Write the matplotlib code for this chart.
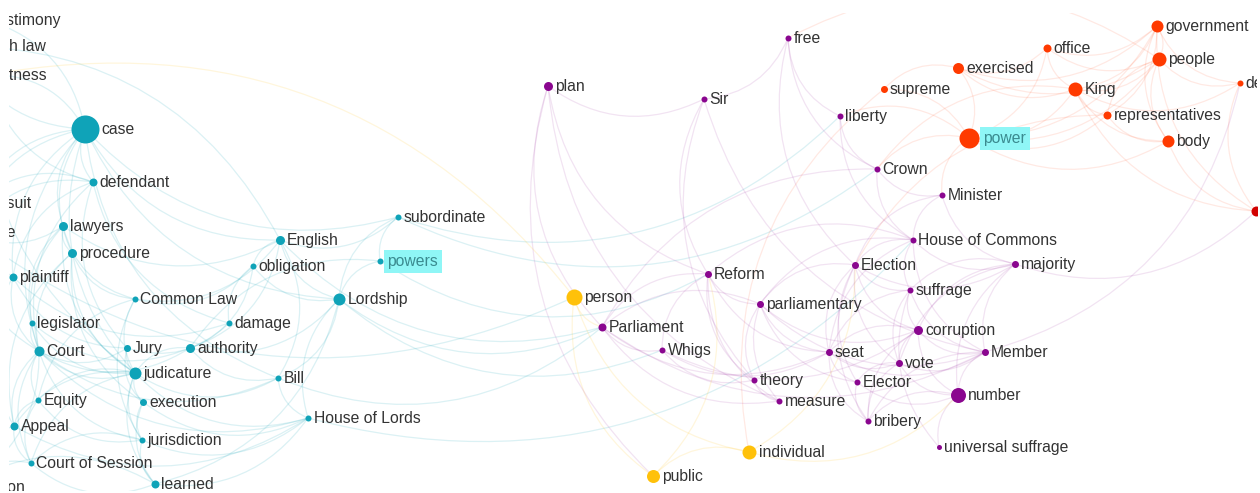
import matplotlib
matplotlib.use("Agg")
import matplotlib.pyplot as plt
from matplotlib.patches import FancyArrowPatch

# ---------------- data ----------------
node_labels = [
    # law cluster
    "case", "defendant", "lawyers", "procedure", "plaintiff", "Common Law", "legislator",
    "damage", "Court", "Jury", "authority", "judicature", "Bill", "Equity", "execution",
    "Appeal", "jurisdiction", "Court of Session", "learned", "English", "obligation",
    "subordinate", "powers", "Lordship", "House of Lords",
    "testimony", "English law", "witness", "lawsuit", "judge", "decision",
    # politics cluster
    "plan", "Sir", "free", "liberty", "Crown", "Minister", "House of Commons", "Reform",
    "Election", "majority", "parliamentary", "suffrage", "Parliament", "corruption",
    "Whigs", "seat", "vote", "Member", "theory", "Elector", "measure", "number",
    "bribery", "universal suffrage",
    # power cluster
    "government", "office", "exercised", "people", "supreme", "King", "representatives",
    "power", "body", "democracy", "state",
    # person cluster
    "person", "individual", "public",
]
node_x = [
    85, 93, 63, 72, 13, 135, 32, 229, 39, 127, 190, 135, 278, 38, 143, 14, 142, 31, 155,
    280, 253, 398, 380, 339, 308, -13, -41, -12, -24, -29, -39,
    548, 704, 788, 840, 877, 942, 913, 708, 855, 1015, 760, 910, 602, 918, 662, 829, 899,
    985, 754, 857, 779, 958, 868, 939,
    1157, 1047, 958, 1159, 884, 1075, 1107, 969, 1168, 1240, 1256,
    574, 749, 653,
]
node_y = [
    129, 182, 226, 253, 277, 299, 323, 323, 351, 348, 348, 373, 378, 400, 402, 426, 440,
    463, 484, 240, 266, 217, 261, 299, 418, 20, 46, 75, 203, 232, 487,
    86, 99, 38, 116, 169, 195, 240, 274, 265, 264, 304, 290, 327, 330, 350, 352, 363,
    352, 380, 382, 401, 395, 421, 447,
    26, 48, 68, 59, 89, 89, 115, 138, 141, 83, 211,
    297, 452, 476,
]
node_weight = [
    14, 4, 4.5, 4.5, 4, 3, 3, 3, 5, 3.5, 4.5, 6, 3, 3, 3.5, 4, 3, 3, 4, 4.5, 3, 3, 3, 6, 3,
    4, 4, 4, 4, 4, 4,
    4.5, 3, 3, 3, 3, 3, 3, 3.5, 3.5, 3.5, 3.5, 3, 4, 4.5, 3, 3.5, 3.5, 3.5, 3, 3, 3, 7.5,
    3, 2.5,
    6, 4, 5.5, 7, 3.5, 7, 4, 10, 6, 3, 5,
    8, 7, 6.5,
]
node_group = (["law"] * 31 + ["politics"] * 24 + ["power"] * 10 + ["state"] + ["person"] * 3)
highlighted = ["powers", "power"]

edges = [
    # law
    ("case", "defendant"), ("case", "lawyers"), ("case", "procedure"), ("case", "plaintiff"),
    ("case", "Court"), ("case", "judicature"), ("case", "English"), ("case", "Lordship"),
    ("case", "testimony"), ("case", "witness"), ("case", "lawsuit"), ("case", "judge"),
    ("case", "Bill"), ("case", "subordinate"), ("English law", "case"),
    ("defendant", "plaintiff"), ("defendant", "lawsuit"), ("defendant", "judge"),
    ("defendant", "Court"), ("defendant", "Jury"), ("defendant", "damage"), ("witness", "defendant"),
    ("lawyers", "procedure"), ("lawyers", "Court"), ("lawyers", "judicature"),
    ("lawyers", "Common Law"), ("lawyers", "English"), ("lawyers", "legislator"),
    ("procedure", "Court"), ("procedure", "Common Law"), ("procedure", "Appeal"),
    ("procedure", "judicature"), ("procedure", "execution"),
    ("plaintiff", "Court"), ("plaintiff", "damage"), ("plaintiff", "Jury"), ("plaintiff", "Appeal"),
    ("Common Law", "English"), ("Common Law", "Equity"), ("Common Law", "judicature"),
    ("Common Law", "obligation"), ("Common Law", "jurisdiction"),
    ("legislator", "judicature"), ("legislator", "Court"), ("legislator", "authority"),
    ("Court", "Jury"), ("Court", "judicature"), ("Court", "Equity"), ("Court", "Appeal"),
    ("Court", "Court of Session"), ("Court", "jurisdiction"), ("Court", "House of Lords"),
    ("Court", "Bill"), ("Court", "authority"),
    ("Jury", "judicature"), ("Jury", "execution"), ("Jury", "damage"),
    ("authority", "judicature"), ("authority", "Bill"), ("authority", "English"),
    ("authority", "Lordship"), ("authority", "obligation"),
    ("judicature", "execution"), ("judicature", "jurisdiction"), ("judicature", "Equity"),
    ("judicature", "Appeal"), ("judicature", "House of Lords"), ("judicature", "Bill"),
    ("judicature", "learned"), ("judicature", "Court of Session"),
    ("Bill", "House of Lords"), ("Bill", "Lordship"), ("Bill", "English"),
    ("Equity", "Appeal"), ("Equity", "jurisdiction"), ("Equity", "Court of Session"),
    ("execution", "jurisdiction"), ("execution", "learned"), ("execution", "House of Lords"),
    ("Appeal", "House of Lords"), ("Appeal", "Court of Session"), ("Appeal", "decision"),
    ("jurisdiction", "Court of Session"), ("jurisdiction", "learned"),
    ("jurisdiction", "House of Lords"), ("Court of Session", "learned"),
    ("Court of Session", "decision"), ("learned", "decision"), ("learned", "House of Lords"),
    ("learned", "Lordship"), ("English", "obligation"), ("English", "subordinate"),
    ("English", "Lordship"), ("English", "English law"), ("obligation", "damage"),
    ("obligation", "Lordship"), ("subordinate", "powers"), ("subordinate", "Lordship"),
    ("powers", "Lordship"), ("powers", "authority"), ("Lordship", "House of Lords"),
    ("testimony", "witness"), ("lawsuit", "plaintiff"), ("judge", "Court"),
    ("judge", "lawyers"), ("decision", "Court"), ("testimony", "judicature"),
    # cross law / politics
    ("subordinate", "liberty"), ("subordinate", "Crown"), ("Lordship", "Parliament"),
    ("Bill", "Parliament"), ("House of Lords", "House of Commons"), ("powers", "Reform"),
    ("English", "Parliament"), ("judge", "person"), ("Lordship", "Whigs"),
    # politics
    ("plan", "Sir"), ("plan", "Reform"), ("plan", "measure"), ("plan", "Parliament"),
    ("Sir", "free"), ("Sir", "Member"), ("Sir", "theory"), ("Sir", "Reform"),
    ("free", "liberty"), ("free", "Crown"), ("free", "Election"),
    ("liberty", "Crown"), ("liberty", "House of Commons"),
    ("Crown", "Minister"), ("Crown", "House of Commons"), ("Crown", "Parliament"),
    ("Minister", "House of Commons"), ("Minister", "Election"), ("Minister", "majority"),
    ("House of Commons", "Election"), ("House of Commons", "majority"),
    ("House of Commons", "Member"), ("House of Commons", "Reform"),
    ("House of Commons", "seat"), ("House of Commons", "suffrage"),
    ("House of Commons", "parliamentary"),
    ("Reform", "parliamentary"), ("Reform", "Parliament"), ("Reform", "Whigs"),
    ("Reform", "theory"), ("Reform", "seat"), ("Reform", "measure"),
    ("Election", "suffrage"), ("Election", "corruption"), ("Election", "seat"),
    ("Election", "vote"), ("Election", "Elector"), ("Election", "bribery"),
    ("Election", "majority"), ("Election", "parliamentary"),
    ("majority", "suffrage"), ("majority", "corruption"), ("majority", "Member"),
    ("majority", "vote"), ("majority", "number"),
    ("parliamentary", "seat"), ("parliamentary", "Elector"), ("parliamentary", "corruption"),
    ("parliamentary", "theory"), ("parliamentary", "measure"), ("parliamentary", "Parliament"),
    ("parliamentary", "Member"),
    ("suffrage", "corruption"), ("suffrage", "vote"), ("suffrage", "seat"),
    ("suffrage", "universal suffrage"), ("suffrage", "Member"),
    ("Parliament", "Whigs"), ("Parliament", "seat"), ("Parliament", "Member"),
    ("Parliament", "measure"),
    ("corruption", "vote"), ("corruption", "Member"), ("corruption", "bribery"),
    ("corruption", "seat"), ("corruption", "number"),
    ("Whigs", "theory"), ("Whigs", "seat"), ("Whigs", "corruption"),
    ("seat", "vote"), ("seat", "Elector"), ("seat", "Member"), ("seat", "bribery"),
    ("vote", "Member"), ("vote", "Elector"), ("vote", "number"), ("vote", "bribery"),
    ("Member", "number"), ("Member", "bribery"), ("theory", "measure"),
    ("Elector", "bribery"), ("Elector", "number"),
    ("number", "universal suffrage"), ("number", "bribery"),
    # power
    ("power", "exercised"), ("power", "supreme"), ("power", "King"), ("power", "office"),
    ("power", "people"), ("power", "government"), ("power", "representatives"),
    ("power", "body"), ("power", "Minister"), ("power", "Crown"), ("power", "liberty"),
    ("exercised", "supreme"), ("exercised", "office"), ("exercised", "King"),
    ("exercised", "people"), ("exercised", "government"),
    ("office", "King"), ("office", "government"), ("office", "people"),
    ("King", "people"), ("King", "representatives"), ("King", "government"),
    ("King", "body"), ("King", "democracy"), ("King", "Crown"),
    ("people", "government"), ("people", "representatives"), ("people", "body"),
    ("people", "democracy"), ("people", "free"),
    ("representatives", "body"), ("representatives", "government"),
    ("representatives", "Election"),
    ("government", "body"), ("government", "democracy"),
    ("body", "state"), ("democracy", "state"), ("majority", "state"), ("Member", "democracy"),
    ("supreme", "individual"), ("government", "state"), ("King", "state"),
    # person
    ("person", "public"), ("person", "individual"), ("individual", "public"),
    ("person", "Parliament"), ("individual", "Election"), ("plan", "public"),
    ("public", "Reform"), ("individual", "number"), ("person", "witness"),
]

group_color = {
    "law": "#0fa3b8",
    "politics": "#8a068f",
    "power": "#ff3a00",
    "state": "#d20000",
    "person": "#ffc10a",
}
edge_alpha = {"law": 0.15, "politics": 0.11, "power": 0.11, "state": 0.11, "person": 0.14}

# ---------------- figure ----------------
W, H = 1260, 493
fig = plt.figure(figsize=(W / 100, H / 100), dpi=100)
x0, x1, y0, y1 = 9, 1257, 13, 491
ax = fig.add_axes([x0 / W, 1 - y1 / H, (x1 - x0) / W, (y1 - y0) / H])
ax.set_xlim(x0, x1)
ax.set_ylim(y1, y0)
ax.axis("off")

pos = {lab: (x, y) for lab, x, y in zip(node_labels, node_x, node_y)}
grp = dict(zip(node_labels, node_group))

for a, b in edges:
    g = grp[a]
    p = FancyArrowPatch(pos[a], pos[b], arrowstyle="-",
                        connectionstyle="arc3,rad=0.3",
                        color=group_color[g], alpha=edge_alpha[g], lw=0.9, zorder=1,
                        shrinkA=0, shrinkB=0)
    ax.add_patch(p)

for lab, x, y, w, g in zip(node_labels, node_x, node_y, node_weight, node_group):
    d_pt = 2 * w * 0.72
    ax.scatter([x], [y], s=d_pt ** 2, color=group_color[g], lw=0, zorder=3)
    if g == "state":
        continue
    tx = x + w + 2.5
    if lab in highlighted:
        ax.text(tx + 2, y + 0.5, lab, fontsize=11.3, family="Liberation Sans",
                color="#3a8a8f", va="center", ha="left", zorder=4, clip_on=True,
                bbox=dict(boxstyle="square,pad=0.25", facecolor="#8ff6f6",
                          edgecolor="none"))
    else:
        ax.text(tx, y + 0.5, lab, fontsize=11.3, family="Liberation Sans",
                color="#333333", va="center", ha="left", zorder=4, clip_on=True)

fig.savefig("out.png", dpi=100, facecolor="white")
